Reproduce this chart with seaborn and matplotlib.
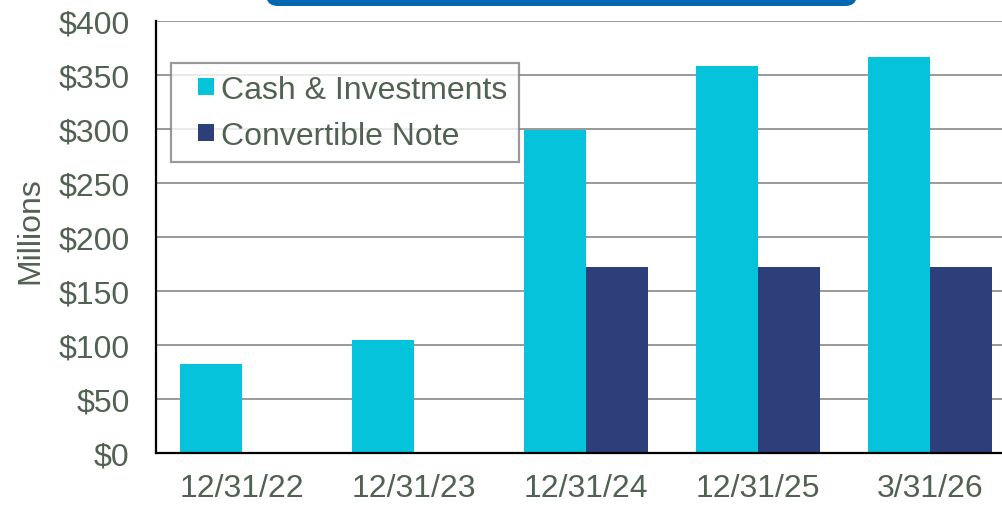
import matplotlib
matplotlib.use("Agg")
import matplotlib.pyplot as plt
from matplotlib.patches import FancyBboxPatch, Rectangle
from matplotlib.legend_handler import HandlerPatch
from matplotlib.ticker import FuncFormatter, MultipleLocator
import pandas as pd
import numpy as np
import seaborn as sns

# Balance sheet snapshot (USD millions)
dates = ["12/31/22", "12/31/23", "12/31/24", "12/31/25", "3/31/26"]
cash_investments = [82, 105, 299, 358, 367]
convertible_note = [np.nan, np.nan, 172, 172, 172]
series_names = ["Cash & Investments", "Convertible Note"]
series_colors = ["#06C3DC", "#2C3F7A"]

df = pd.DataFrame({
    "date": dates * 2,
    "value": cash_investments + convertible_note,
    "series": [series_names[0]] * len(dates) + [series_names[1]] * len(dates),
})

sns.set_theme(style="white")
plt.rcParams["font.family"] = ["Liberation Sans", "DejaVu Sans"]
text_color = "#526252"
fs = 23

fig = plt.figure(figsize=(10.02, 5.06), dpi=100)
W, H = 1002, 506
ax = fig.add_axes([156 / W, 52 / H, 860 / W, 432 / H])

sns.barplot(data=df, x="date", y="value", hue="series", order=dates,
            hue_order=series_names, palette=series_colors, width=0.72,
            saturation=1, ax=ax, edgecolor="none", linewidth=0)

ax.set_xlim(-0.5, 4.5)
ax.set_ylim(0, 400)
ax.yaxis.set_major_locator(MultipleLocator(50))
ax.yaxis.set_major_formatter(FuncFormatter(lambda v, _: f"${v:,.0f}"))
ax.grid(axis="y", color="#999999", linewidth=1.4)
ax.set_axisbelow(True)

for side in ["top", "right"]:
    ax.spines[side].set_visible(False)
for side in ["left", "bottom"]:
    ax.spines[side].set_color("black")
    ax.spines[side].set_linewidth(1.6)
    ax.spines[side].set_zorder(5)

ax.tick_params(axis="both", length=0, labelsize=fs, labelcolor=text_color)
ax.tick_params(axis="y", pad=19)
ax.tick_params(axis="x", pad=14.5)
ax.set_xlabel("")
ax.set_ylabel("Millions", fontsize=fs, color=text_color, labelpad=9)
ax.yaxis.label.set_y((454 - 230.5) / 432)


class SquareRight(HandlerPatch):
    """Square legend key sitting at the right end of the handle box."""

    def create_artists(self, legend, orig_handle, xdescent, ydescent,
                       width, height, fontsize, trans):
        side = 0.53 * fontsize
        x0 = -xdescent + width - side
        y0 = -ydescent + (height - side) / 2
        p = Rectangle((x0, y0), side, side,
                      facecolor=orig_handle.get_facecolor(),
                      edgecolor="none", transform=trans)
        return [p]


handles, labels = ax.get_legend_handles_labels()
leg = ax.legend(handles, labels, loc="upper left",
                bbox_to_anchor=((171 - 156) / 860, (454 - 64) / 432),
                borderaxespad=0, fontsize=fs, frameon=True, fancybox=False,
                handlelength=1.0, handleheight=0.7, handletextpad=0.22,
                labelspacing=0.51, borderpad=0.36, labelcolor=text_color,
                handler_map={h: SquareRight() for h in handles})
leg.get_frame().set_edgecolor("#808080")
leg.get_frame().set_linewidth(1.6)
leg.set_zorder(6)

# Header banner peeking in at the top edge
banner = FancyBboxPatch((266 / W, 1 - 7 / H), 591 / W, 0.1,
                        boxstyle="round,pad=0,rounding_size=0.012",
                        transform=fig.transFigure, facecolor="#0067B1",
                        edgecolor="none", mutation_aspect=W / H)
fig.patches.append(banner)

fig.savefig("out.png", dpi=100)
